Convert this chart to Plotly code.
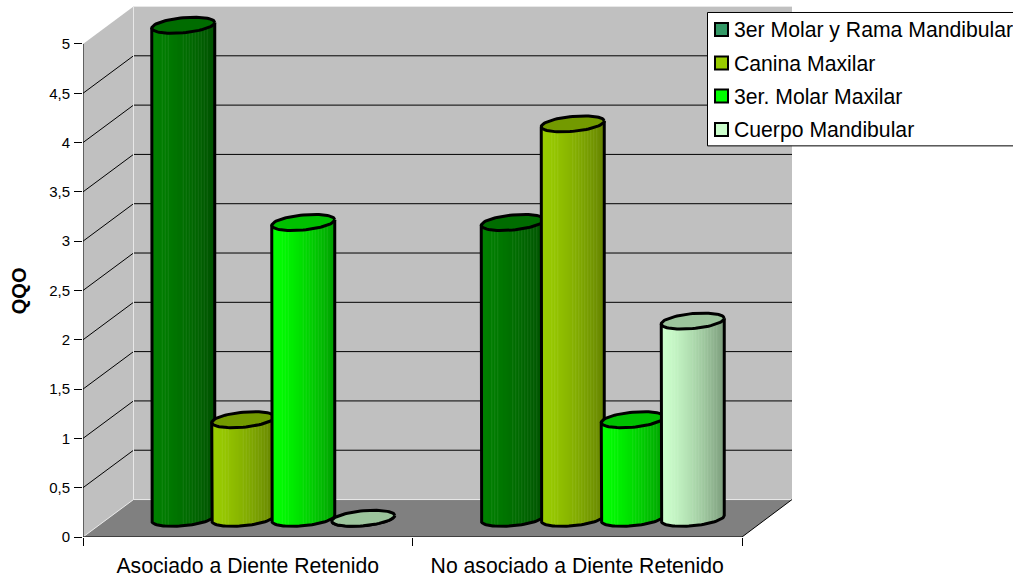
import numpy as np
import plotly.graph_objects as go

# Chart data
categories = ["Asociado a Diente Retenido", "No asociado a Diente Retenido"]
series_names = ["3er Molar y Rama Mandibular", "Canina Maxilar", "3er. Molar Maxilar", "Cuerpo Mandibular"]
molar_rama = [5, 3]
canina = [1, 4]
molar_maxilar = [3, 1]
cuerpo = [0, 2]
series_values = [molar_rama, canina, molar_maxilar, cuerpo]
value_ticks = [0, 0.5, 1, 1.5, 2, 2.5, 3, 3.5, 4, 4.5, 5]
tick_labels = ["0", "0,5", "1", "1,5", "2", "2,5", "3", "3,5", "4", "4,5", "5"]

# Series colours: swatch, lit side, shaded side, cap
swatch_colors = ["#339966", "#99CC00", "#00FF00", "#CCFFCC"]
lit_colors = [(0, 128, 0), (153, 204, 0), (0, 255, 0), (204, 255, 204)]
shade_colors = [(0, 82, 0), (102, 132, 0), (0, 160, 0), (125, 158, 125)]
cap_colors = ["#006C00", "#739A00", "#00C000", "#9CC49C"]

# Plot frame in pixels and the oblique depth of the 3D box
LEFT, RIGHT, TOP, BOTTOM = 83, 792, 6, 537.5
PX_PER_CAT = 329.5
PX_PER_VAL = 98.7
WIDTH, HEIGHT = 1013, 576
DX = 50.5 / PX_PER_CAT
DY = 37.5 / PX_PER_VAL
X_MAX = (RIGHT - LEFT) / PX_PER_CAT
Y_MAX = (BOTTOM - TOP) / PX_PER_VAL

# Cylinder proportions
SPACING = 60 / PX_PER_CAT
RADIUS_PX, MINOR_PX, TILT_PX = 31.5, 7.5, 2.8
RX = RADIUS_PX / PX_PER_CAT
RY = MINOR_PX / PX_PER_VAL
TILT = TILT_PX / PX_PER_VAL
CX_SHIFT = 25.5 / PX_PER_CAT
CY_SHIFT = 18.7 / PX_PER_VAL
N_STRIPS = 63
# Facets that catch a highlight on the cylinder surface
HIGHLIGHT_STRIPS = {10, 13, 16, 31, 34, 37, 40, 43, 46, 49, 52, 55}

fig = go.Figure()


def poly(xs, ys, fill=None, line=None, width=1.0):
    fig.add_trace(go.Scatter(
        x=xs, y=ys, mode="lines", hoverinfo="skip", showlegend=False,
        fill="toself" if fill else "none", fillcolor=fill,
        line=dict(color=line or "rgba(0,0,0,0)", width=width if line else 0),
    ))


# Box walls and floor
poly([0, DX, DX, 0, 0], [5, 5 + DY, DY, 0, 5], fill="#C0C0C0")
poly([DX, X_MAX, X_MAX, DX, DX], [DY, DY, 5 + DY, 5 + DY, DY], fill="#C0C0C0")
poly([0, 2, X_MAX, DX, 0], [0, 0, DY, DY, 0], fill="#808080")

# Gridlines run across the side wall and the back wall
for v in value_ticks[1:-1]:
    poly([0, DX, X_MAX], [v, v + DY, v + DY], line="#000000", width=1)
poly([0, DX, DX, X_MAX], [0, DY, 5 + DY, 5 + DY], line="#E8E8E8", width=1)
poly([DX, X_MAX], [DY, DY], line="#E8E8E8", width=1)
poly([0, 0, 2, X_MAX], [5, 0, 0, DY], line="#000000", width=1)


def cylinder(center, value, lit, shade, cap):
    top = value + CY_SHIFT
    base = CY_SHIFT
    edges = np.linspace(-1, 1, N_STRIPS + 1)
    front = lambda u: TILT * u - RY * np.sqrt(np.clip(1 - u * u, 0, 1))
    # Each facet reaches the far side, so the next one paints over it without seams
    for i in range(N_STRIPS):
        u0 = edges[i]
        t = (i / (N_STRIPS - 1)) ** 1.4
        c = [a + (b - a) * t for a, b in zip(lit, shade)]
        if i in HIGHLIGHT_STRIPS:
            c = [v + (255 - v) * 0.08 for v in c]
        us = np.linspace(u0, 1, max(N_STRIPS - i, 2))
        xs = list(center + RX * us) + [center + RX, center + RX * u0]
        ys = list(base + front(us)) + [top + TILT, top + TILT * u0]
        poly(xs, ys, fill=f"rgb({round(c[0])},{round(c[1])},{round(c[2])})")
    # side edges and front rim of the base
    theta = np.linspace(np.pi, 2 * np.pi, 40)
    ox = [center - RX] + list(center + RX * np.cos(theta)) + [center + RX]
    oy = [top - TILT] + list(base + TILT * np.cos(theta) + RY * np.sin(theta)) + [top + TILT]
    poly(ox, oy, line="#000000", width=3)
    # top cap
    theta = np.linspace(0, 2 * np.pi, 73)
    poly(center + RX * np.cos(theta), top + TILT * np.cos(theta) + RY * np.sin(theta),
         fill=cap, line="#000000", width=3)


for g in range(len(categories)):
    for s, values in enumerate(series_values):
        center = g + 0.5 + (s - 1.5) * SPACING + CX_SHIFT
        cylinder(center, values[g], lit_colors[s], shade_colors[s], cap_colors[s])


def px(x):
    return (x - LEFT) / (RIGHT - LEFT)


def py(y):
    return (BOTTOM - y) / (BOTTOM - TOP)


# Legend panel
shapes = [dict(type="rect", xref="paper", yref="paper", x0=px(707.5), x1=px(1030),
               y0=py(146), y1=py(12.5), fillcolor="#FFFFFF", line=dict(color="#000000", width=1))]
annotations = []
legend_rows = [29.5, 63, 96, 129.5]
for name, color, row in zip(series_names, swatch_colors, legend_rows):
    shapes.append(dict(type="rect", xref="paper", yref="paper", x0=px(715), x1=px(728),
                       y0=py(row + 6.5), y1=py(row - 6.5), fillcolor=color,
                       line=dict(color="#000000", width=2)))
    annotations.append(dict(xref="paper", yref="paper", x=px(731.5), y=py(row + 0.7), text=name,
                            showarrow=False, xanchor="left", yanchor="middle",
                            font=dict(size=21.2, color="#000000")))

# Value axis title
annotations.append(dict(xref="paper", yref="paper", x=px(19), y=py(291.5), text="<b>QQO</b>",
                        showarrow=False, textangle=-90, xanchor="center", yanchor="middle",
                        font=dict(size=20, color="#000000")))

fig.update_layout(
    width=WIDTH, height=HEIGHT,
    margin=dict(l=LEFT, r=WIDTH - RIGHT, t=TOP, b=HEIGHT - BOTTOM, autoexpand=False),
    paper_bgcolor="#FFFFFF", plot_bgcolor="#FFFFFF",
    font=dict(family="Liberation Sans, Arial, sans-serif", color="#000000"),
    showlegend=False, shapes=shapes, annotations=annotations,
    xaxis=dict(
        range=[0, X_MAX], showgrid=False, zeroline=False, showline=False,
        tickmode="array", tickvals=[0.5, 1.5], ticktext=categories, ticks="",
        tickfont=dict(size=21.2), ticklabelstandoff=14,
        minor=dict(tickmode="array", tickvals=[0, 1, 2], ticks="outside", ticklen=8,
                   tickcolor="#000000", tickwidth=1, showgrid=False),
    ),
    yaxis=dict(
        range=[0, Y_MAX], showgrid=False, zeroline=False, showline=False,
        tickmode="array", tickvals=value_ticks, ticktext=tick_labels, ticks="outside",
        ticklen=8, tickcolor="#000000", tickwidth=1, tickfont=dict(size=15),
        ticklabelstandoff=1,
    ),
)

fig.write_html("out.html")
